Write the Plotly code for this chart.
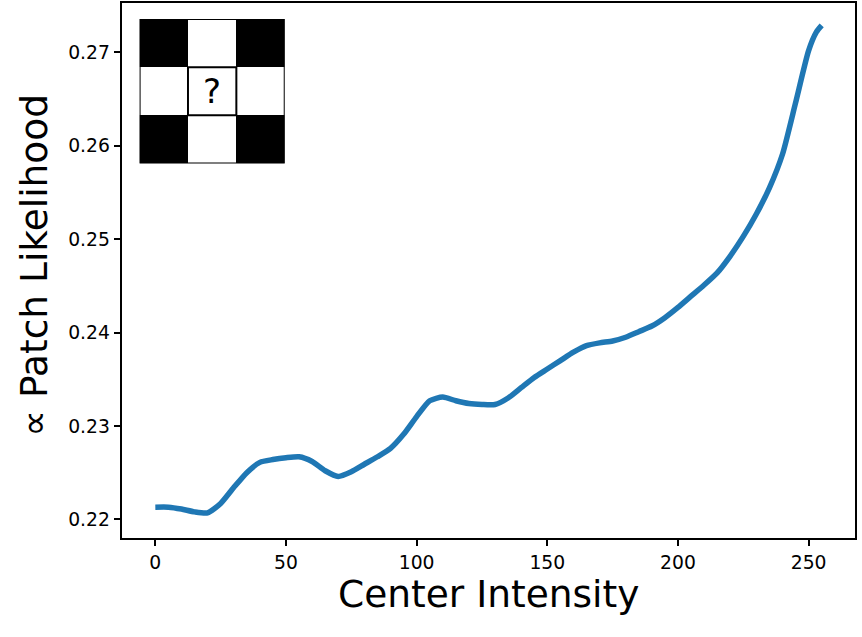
import plotly.graph_objects as go

# ---- data ----
intensity = [0, 5, 10, 15, 20, 25, 30, 35, 40, 45, 50, 55, 60, 65, 70, 75, 80, 85, 90, 95,
             100, 105, 110, 115, 120, 125, 130, 135, 140, 145, 150, 155, 160, 165, 170, 175,
             180, 185, 190, 195, 200, 205, 210, 215, 220, 225, 230, 235, 240, 245, 250, 253, 255]
likelihood = [0.2213, 0.2213, 0.2211, 0.2208, 0.2207, 0.2217, 0.2234, 0.2250, 0.2261, 0.2264,
              0.2266, 0.2267, 0.2262, 0.2252, 0.2246, 0.2251, 0.2259, 0.2267, 0.2276, 0.2291,
              0.2310, 0.2327, 0.2331, 0.2327, 0.2324, 0.2323, 0.2323, 0.2330, 0.2341, 0.2352,
              0.2361, 0.2370, 0.2379, 0.2386, 0.2389, 0.2391, 0.2395, 0.2401, 0.2407, 0.2416,
              0.2427, 0.2439, 0.2451, 0.2464, 0.2482, 0.2503, 0.2527, 0.2555, 0.2591, 0.2646,
              0.2702, 0.2722, 0.2729]
x_ticks = [0, 50, 100, 150, 200, 250]
y_ticks = [0.22, 0.23, 0.24, 0.25, 0.26, 0.27]
y_tick_labels = ["0.22", "0.23", "0.24", "0.25", "0.26", "0.27"]

# inset patch (1 = black, 0 = white)
patch = [[1, 0, 1],
         [0, 0, 0],
         [1, 0, 1]]
patch_label = "?"

x_title = "Center Intensity"
y_title = "∝ Patch Likelihood"

FONT = "DejaVu Sans"

fig = go.Figure()
fig.add_trace(go.Scatter(
    x=intensity, y=likelihood, mode="lines",
    line=dict(color="#1f77b4", width=5.5, shape="spline", smoothing=0.6),
    showlegend=False, hoverinfo="skip",
))
fig.add_trace(go.Heatmap(
    z=patch, x=[0, 1, 2], y=[0, 1, 2],
    colorscale=[[0, "white"], [1, "black"]], zmin=0, zmax=1,
    showscale=False, xaxis="x2", yaxis="y2", zsmooth=False, hoverinfo="skip",
))

axis_common = dict(
    showline=True, mirror=True, linecolor="black", linewidth=1.5,
    ticks="outside", ticklen=6.6, tickwidth=1.5, tickcolor="black",
    showgrid=False, zeroline=False, automargin=False,
    tickfont=dict(family=FONT, size=18.75, color="black"),
)

fig.update_layout(
    width=862, height=637,
    margin=dict(l=122, r=7, t=3, b=99),
    paper_bgcolor="white", plot_bgcolor="white",
    xaxis=dict(range=[-12.75, 267.75], tickvals=x_ticks,
               ticktext=[str(v) for v in x_ticks], **axis_common),
    yaxis=dict(range=[0.2180, 0.2753], tickvals=y_ticks,
               ticktext=y_tick_labels, **axis_common),
    xaxis2=dict(domain=[0.024, 0.222], anchor="y2", range=[-0.5, 2.5],
                visible=False, fixedrange=True),
    yaxis2=dict(domain=[0.700, 0.970], anchor="x2", range=[-0.5, 2.5],
                visible=False, fixedrange=True),
    shapes=[
        dict(type="rect", xref="x2", yref="y2", x0=0.5, x1=1.5, y0=0.5, y1=1.5,
             line=dict(color="black", width=2)),
        dict(type="rect", xref="x2", yref="y2", x0=-0.5, x1=2.5, y0=-0.5, y1=2.5,
             line=dict(color="black", width=2)),
    ],
    annotations=[
        dict(text=patch_label, xref="x2", yref="y2", x=1, y=1, showarrow=False,
             font=dict(family=FONT, size=34, color="black"),
             xanchor="center", yanchor="middle"),
        dict(text=x_title, xref="paper", yref="paper", x=0.5, y=-0.105,
             showarrow=False, xanchor="center", yanchor="middle",
             font=dict(family=FONT, size=37.5, color="black")),
        dict(text=y_title, xref="paper", yref="paper", x=-0.1194, y=0.51,
             showarrow=False, xanchor="center", yanchor="middle", textangle=-90,
             font=dict(family=FONT, size=37.5, color="black")),
    ],
)

fig.write_html("out.html", config={"displayModeBar": False},
               post_script="document.body.style.margin='0';")
